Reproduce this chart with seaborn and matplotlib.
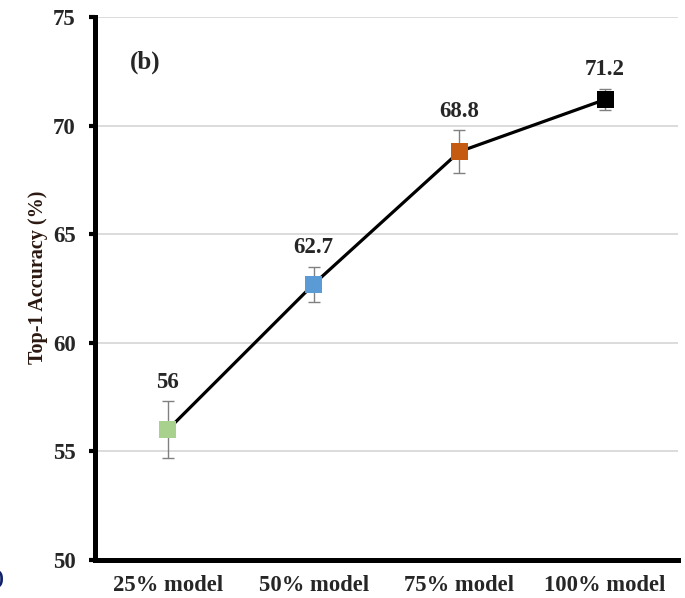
import numpy as np
import pandas as pd
import matplotlib.pyplot as plt
import seaborn as sns

models = ['25% model', '50% model', '75% model', '100% model']
accuracy = [56.0, 62.7, 68.8, 71.2]
errors = [1.3, 0.8, 1.0, 0.5]
colors = ['#a9d18e', '#5b9bd5', '#c55a11', '#000000']
y_ticks = [50, 55, 60, 65, 70, 75]

sns.set_style('white')
plt.rcParams['font.family'] = ['Liberation Serif', 'DejaVu Serif']
plt.rcParams['font.weight'] = 'bold'

df = pd.DataFrame({'model': models, 'acc': accuracy, 'err': errors})
pos = np.arange(len(models))

fig = plt.figure(figsize=(6.85, 5.98), dpi=100)
ax = fig.add_axes([0.1387, 0.0635, 0.8511, 0.9081])

# 误差棒 -> 折线 -> 彩色方块
ax.errorbar(pos, df['acc'], yerr=df['err'], fmt='none', ecolor='#808080',
            elinewidth=1.0, capsize=4, capthick=1.0, zorder=2)
sns.lineplot(x=pos, y=df['acc'], color='black', linewidth=2.3, ax=ax, zorder=3)
sns.scatterplot(x=pos, y=df['acc'], hue=df['model'], palette=colors, marker='s',
                s=150, edgecolor='none', legend=False, ax=ax, zorder=4)

for i, row in df.iterrows():
    ax.annotate(f"{row['acc']:g}", (i, row['acc'] + row['err']), xytext=(0, 6),
                textcoords='offset points', ha='center', va='bottom',
                fontsize=16.5, fontweight='bold')

ax.set_xlim(-0.5, 3.5)
ax.set_ylim(50, 75)
ax.set_yticks(y_ticks)
ax.set_yticklabels([str(t) for t in y_ticks], fontsize=16.5, fontweight='bold')
ax.set_xticks(pos)
ax.set_xticklabels(models, fontsize=16.3, fontweight='bold')
ax.set_xticks(list(pos + 0.5), minor=True)
ax.tick_params(axis='x', which='major', length=0, pad=11)
ax.tick_params(axis='x', which='minor', length=3, width=3, direction='out', color='black')
ax.tick_params(axis='y', length=4, width=3, direction='out', color='black', pad=10, left=True)

ax.yaxis.grid(True, color='#d9d9d9', linewidth=1.3)
ax.set_axisbelow(True)

for side in ['top', 'right']:
    ax.spines[side].set_visible(False)
for side in ['left', 'bottom']:
    ax.spines[side].set_linewidth(3.6)
    ax.spines[side].set_color('black')

ax.set_xlabel('')
ax.set_ylabel('Top-1 Accuracy (%)', fontsize=14.5, fontweight='bold', color='#2b1810')
ax.yaxis.set_label_coords(-0.08, 0.52)

ax.text(0.06, 0.905, '(b)', transform=ax.transAxes, fontsize=18, fontweight='bold')
fig.text(-0.006, 0.022, ')', fontsize=15, fontweight='bold', color='#10206a')

fig.savefig('out.png', dpi=100)
